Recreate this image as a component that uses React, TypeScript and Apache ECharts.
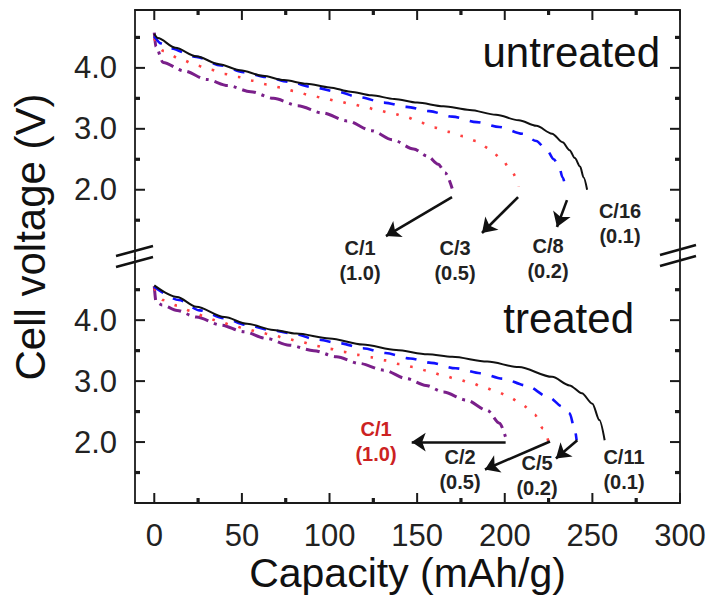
import React, { useEffect, useRef } from "react";
import * as echarts from "echarts";

const FONT = "'Liberation Sans', Arial, Helvetica, sans-serif";

// axis ticks
const xTicks = [0, 50, 100, 150, 200, 250, 300];
const xMinorTicks = [25, 75, 125, 175, 225, 275];
const yTicks = [2, 3, 4];
const yMinorTicks = [1.5, 2.5, 3.5, 4.5];

// untreated panel: [capacity mAh/g, voltage V]
const untreatedC16 = [
  [0, 4.56], [2, 4.49], [12, 4.33], [24, 4.19], [37, 4.06], [49, 3.96], [62, 3.87], [74, 3.8],
  [87, 3.74], [100, 3.68], [112, 3.61], [124, 3.55], [137, 3.49], [150, 3.43], [165, 3.37],
  [180, 3.31], [195, 3.23], [208, 3.14], [218, 3.05], [227, 2.92], [233, 2.78], [237, 2.65],
  [240, 2.52], [243, 2.38], [245, 2.2], [247, 2.0],
];
const untreatedC8 = [
  [0, 4.52], [4, 4.4], [9, 4.32], [24, 4.18], [38, 4.04], [51, 3.93], [64, 3.85], [77, 3.77],
  [91, 3.68], [104, 3.61], [117, 3.52], [131, 3.43], [144, 3.36], [157, 3.29], [170, 3.2],
  [184, 3.11], [197, 3.03], [210, 2.92], [218, 2.8], [224, 2.65], [228, 2.5], [231, 2.38],
  [233, 2.2], [235, 2.0],
];
const untreatedC3 = [
  [0, 4.48], [5, 4.28], [16, 4.13], [24, 4.04], [32, 3.97], [40, 3.9], [48, 3.85], [56, 3.79],
  [64, 3.73], [72, 3.68], [80, 3.62], [88, 3.56], [96, 3.51], [104, 3.46], [112, 3.41],
  [120, 3.36], [128, 3.3], [136, 3.25], [144, 3.19], [152, 3.1], [160, 3.02], [168, 2.95],
  [176, 2.88], [184, 2.8], [191, 2.68], [198, 2.51], [204, 2.3], [208, 2.05],
];
const untreatedC1 = [
  [0, 4.58], [1, 4.35], [5, 4.09], [17, 3.95], [30, 3.81], [42, 3.71], [55, 3.61], [68, 3.5],
  [82, 3.38], [96, 3.26], [110, 3.13], [124, 2.97], [136, 2.82], [148, 2.67], [156, 2.55],
  [162, 2.42], [166, 2.28], [170, 2.02],
];

// treated panel
const treatedC11 = [
  [0, 4.57], [13, 4.38], [24, 4.22], [40, 4.05], [53, 3.94], [68, 3.84], [81, 3.78], [100, 3.7],
  [119, 3.6], [138, 3.51], [156, 3.44], [170, 3.4], [190, 3.32], [208, 3.23], [227, 3.07],
  [237, 2.93], [244, 2.8], [250, 2.63], [254, 2.36], [257, 2.03],
];
const treatedC5 = [
  [0, 4.55], [14, 4.33], [26, 4.16], [40, 4.03], [53, 3.92], [66, 3.84], [79, 3.78], [93, 3.68],
  [106, 3.62], [119, 3.54], [132, 3.46], [146, 3.37], [158, 3.3], [172, 3.21], [186, 3.13],
  [199, 3.04], [212, 2.93], [225, 2.74], [233, 2.58], [237, 2.47], [240, 2.2], [241, 2.03],
];
const treatedC2 = [
  [0, 4.52], [5, 4.33], [13, 4.24], [21, 4.15], [28, 4.07], [36, 3.99], [44, 3.92], [52, 3.86],
  [60, 3.8], [68, 3.75], [76, 3.69], [84, 3.64], [92, 3.58], [100, 3.53], [108, 3.48],
  [116, 3.43], [124, 3.39], [132, 3.34], [140, 3.28], [148, 3.23], [156, 3.17], [164, 3.1],
  [172, 3.04], [180, 2.98], [188, 2.9], [196, 2.82], [203, 2.73], [210, 2.61], [217, 2.45],
  [222, 2.22], [225, 2.0],
];
const treatedC1 = [
  [0, 4.56], [1, 4.3], [4.4, 4.25], [13, 4.16], [24, 4.05], [38, 3.92], [51, 3.81], [64, 3.7],
  [77, 3.59], [91, 3.5], [104, 3.4], [117, 3.29], [131, 3.18], [144, 3.04], [155, 2.93],
  [165, 2.82], [178, 2.69], [190, 2.52], [197, 2.31], [201, 2.03],
];

// arrows: [start, end] in data coordinates
const untreatedArrows = [
  [[169.9, 1.88], [132.2, 1.24]],
  [[207.6, 1.88], [187, 1.29]],
  [[235.5, 1.83], [229.8, 1.39]],
];
const treatedArrows = [
  [[200.5, 2.0], [146.9, 2.0]],
  [[225.8, 2.01], [188.7, 1.55]],
  [[241.4, 2.03], [229.2, 1.73]],
];

const untreatedRates = ["C/1", "C/3", "C/8", "C/16"];
const untreatedCurrents = ["(1.0)", "(0.5)", "(0.2)", "(0.1)"];
const treatedRates = ["C/1", "C/2", "C/5", "C/11"];
const treatedCurrents = ["(1.0)", "(0.5)", "(0.2)", "(0.1)"];

const X_MIN = -11;
const X_MAX = 300;
const UP_MIN = 0.88;
const UP_MAX = 4.95;
const LO_MIN = 1.0;
const LO_MAX = 5.02;

const AXIS_COLOR = "#1a1a1a";
const BLACK = "#111";
const BLUE = "#1010ff";
const RED = "#ff4040";
const PURPLE = "#7a1f8a";

export default function App() {
  const ref = useRef<HTMLDivElement>(null);

  useEffect(() => {
    if (!ref.current) return;
    const chart = echarts.init(ref.current, undefined, { renderer: "svg" });

    const lineStyle = { color: AXIS_COLOR, width: 1.8 };
    const grids = [
      { left: 135, right: 34, top: 10, height: 248 },
      { left: 135, right: 34, top: 258, height: 245 },
    ];

    const xAxisDef = (gridIndex: number, position: string, labels: boolean, extra: any = {}) => ({
      type: "value",
      gridIndex,
      position,
      min: X_MIN,
      max: X_MAX,
      axisLine: { show: true, onZero: false, lineStyle },
      axisTick: { show: false },
      axisLabel: labels
        ? {
            show: true,
            customValues: xTicks,
            fontSize: 31,
            lineHeight: 28,
            fontFamily: FONT,
            color: "#222",
            margin: 18,
          }
        : { show: false },
      splitLine: { show: false },
      ...extra,
    });
    const yAxisDef = (gridIndex: number, position: string, min: number, max: number, labels: boolean) => ({
      type: "value",
      gridIndex,
      position,
      min,
      max,
      axisLine: { show: true, onZero: false, lineStyle },
      axisTick: { show: false },
      axisLabel: labels
        ? {
            show: true,
            customValues: yTicks,
            formatter: (v: number) => v.toFixed(1),
            fontSize: 31,
            lineHeight: 28,
            fontFamily: FONT,
            color: "#222",
            margin: 18,
          }
        : { show: false },
      splitLine: { show: false },
    });

    const xAxis: any[] = [
      xAxisDef(0, "top", false),
      xAxisDef(1, "bottom", true, {
        name: "Capacity (mAh/g)",
        nameLocation: "middle",
        nameGap: 50,
        nameTextStyle: { fontSize: 41, lineHeight: 40, fontFamily: FONT, color: "#111" },
      }),
    ];
    const yAxis: any[] = [
      yAxisDef(0, "left", UP_MIN, UP_MAX, true),
      yAxisDef(0, "right", UP_MIN, UP_MAX, false),
      yAxisDef(1, "left", LO_MIN, LO_MAX, true),
      yAxisDef(1, "right", LO_MIN, LO_MAX, false),
    ];

    const arrowMarkLine = (arrows: number[][][]) => ({
      silent: true,
      symbol: ["none", "arrow"],
      symbolSize: 14,
      label: { show: false },
      itemStyle: { color: BLACK },
      lineStyle: { color: BLACK, width: 2.6, type: "solid" },
      emphasis: { disabled: true },
      data: arrows.map(([s, e]) => [{ coord: s }, { coord: e }]),
    });

    const mkSeries = (
      name: string,
      data: number[][],
      panel: number,
      color: string,
      width: number,
      type: any,
      extra: any = {}
    ) => ({
      name,
      type: "line",
      xAxisIndex: panel === 0 ? 0 : 1,
      yAxisIndex: panel === 0 ? 0 : 2,
      data,
      showSymbol: false,
      smooth: 0.3,
      smoothMonotone: "x",
      lineStyle: { color, width, type, cap: "butt" },
      itemStyle: { color },
      emphasis: { disabled: true },
      ...extra,
    });

    const series: any[] = [
      mkSeries("untreated C/1", untreatedC1, 0, PURPLE, 3, [14, 6, 3, 6]),
      mkSeries("untreated C/3", untreatedC3, 0, RED, 2.6, [2.6, 11]),
      mkSeries("untreated C/8", untreatedC8, 0, BLUE, 2.6, [11, 11]),
      mkSeries("untreated C/16", untreatedC16, 0, BLACK, 2, "solid", { markLine: arrowMarkLine(untreatedArrows) }),
      mkSeries("treated C/1", treatedC1, 1, PURPLE, 3, [14, 6, 3, 6]),
      mkSeries("treated C/2", treatedC2, 1, RED, 2.6, [2.6, 11]),
      mkSeries("treated C/5", treatedC5, 1, BLUE, 2.6, [11, 11]),
      mkSeries("treated C/11", treatedC11, 1, BLACK, 2, "solid", { markLine: arrowMarkLine(treatedArrows) }),
    ];

    const labelText = (text: string, x: number, y: number, fill = "#222") => ({
      type: "text",
      x,
      y,
      silent: true,
      style: {
        text,
        fontSize: 20,
        fontWeight: "bold",
        fontFamily: FONT,
        fill,
        align: "center",
        verticalAlign: "middle",
        lineHeight: 25,
      },
    });

    const upperPos = [[360, 260.5], [455, 260.5], [548, 258.5], [620, 223.5]];
    const lowerPos = [[376, 441], [460, 469], [537, 475], [624, 469]];

    const breakLine = (x1: number, y1: number, x2: number, y2: number) => ({
      type: "line",
      silent: true,
      shape: { x1, y1, x2, y2 },
      style: { stroke: BLACK, lineWidth: 2.6 },
    });

    const graphic: any[] = [
      {
        type: "text",
        x: 660,
        y: 52,
        silent: true,
        style: { text: "untreated", fontSize: 42, fontFamily: FONT, fill: "#111", align: "right", verticalAlign: "middle" },
      },
      {
        type: "text",
        x: 634,
        y: 318,
        silent: true,
        style: { text: "treated", fontSize: 42, fontFamily: FONT, fill: "#111", align: "right", verticalAlign: "middle" },
      },
      {
        type: "text",
        x: 30,
        y: 237,
        rotation: Math.PI / 2,
        silent: true,
        style: { text: "Cell voltage (V)", fontSize: 42, fontFamily: FONT, fill: "#111", align: "center", verticalAlign: "middle" },
      },
      ...untreatedRates.map((r, i) => labelText(r + "\n" + untreatedCurrents[i], upperPos[i][0], upperPos[i][1])),
      ...treatedRates.map((r, i) =>
        labelText(r + "\n" + treatedCurrents[i], lowerPos[i][0], lowerPos[i][1], i === 0 ? "#cc2222" : "#222")
      ),
      breakLine(116, 256, 153, 246),
      breakLine(116, 267, 153, 257),
      breakLine(660, 255, 696, 245),
      breakLine(660, 266, 696, 256),
    ];

    chart.setOption({
      animation: false,
      backgroundColor: "#fff",
      grid: grids,
      xAxis,
      yAxis,
      series,
      graphic,
    });

    // inward tick marks, positioned through the axes' scales (convertToPixel)
    const ticks: any[] = [];
    const addTick = (finder: any, x: number, y: number, dx: number, dy: number, w: number) => {
      const p = chart.convertToPixel(finder, [x, y]) as number[];
      if (!p || isNaN(p[0]) || isNaN(p[1])) return;
      ticks.push({
        type: "line",
        silent: true,
        z: 100,
        shape: { x1: p[0], y1: p[1], x2: p[0] + dx, y2: p[1] + dy },
        style: { stroke: AXIS_COLOR, lineWidth: w },
      });
    };
    const panels = [
      { finder: { xAxisIndex: 0, yAxisIndex: 0 }, yMin: UP_MIN, yMax: UP_MAX, bottom: false },
      { finder: { xAxisIndex: 1, yAxisIndex: 2 }, yMin: LO_MIN, yMax: LO_MAX, bottom: true },
    ];
    panels.forEach(({ finder, yMin, yMax, bottom }) => {
      const edgeY = bottom ? yMin : yMax;
      const dir = bottom ? -1 : 1;
      xTicks.forEach((v) => addTick(finder, v, edgeY, 0, dir * 10, 2));
      xMinorTicks.forEach((v) => addTick(finder, v, edgeY, 0, dir * 5, 3.2));
      yTicks.forEach((v) => {
        addTick(finder, X_MIN, v, 10, 0, 2);
        addTick(finder, X_MAX, v, -10, 0, 2);
      });
      yMinorTicks.forEach((v) => {
        addTick(finder, X_MIN, v, 5, 0, 3.2);
        addTick(finder, X_MAX, v, -5, 0, 3.2);
      });
    });
    chart.setOption({ graphic: [...graphic, ...ticks] });

    return () => chart.dispose();
  }, []);

  return (
    <div
      ref={ref}
      style={{ position: "absolute", left: 0, top: 0, width: 714, height: 596, background: "#fff" }}
    />
  );
}
